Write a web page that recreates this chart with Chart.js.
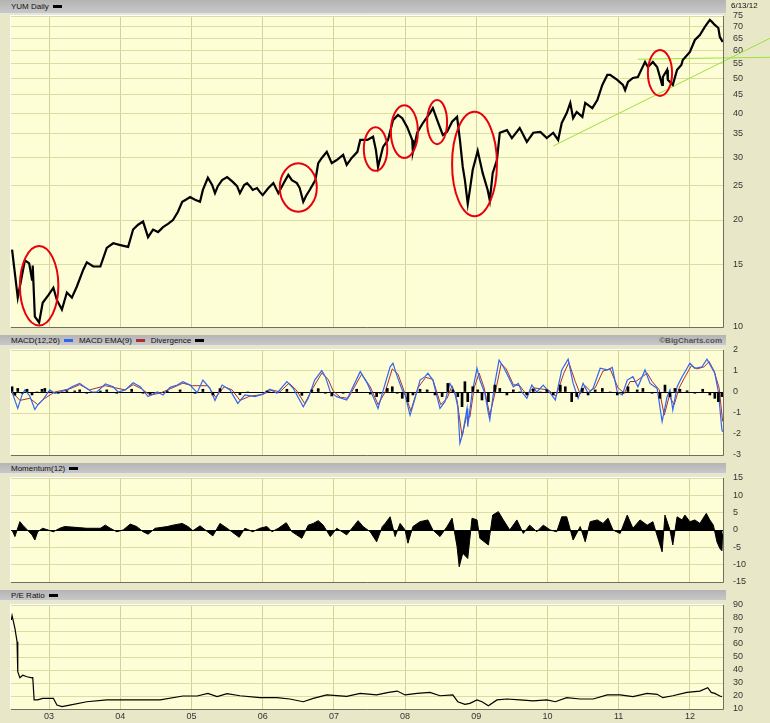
<!DOCTYPE html>
<html>
<head>
<meta charset="utf-8">
<script src="https://cdn.jsdelivr.net/npm/chart.js@4.4.1/dist/chart.umd.min.js"></script>
<style>
html, body { margin: 0; padding: 0; }
body { width: 770px; height: 723px; background: #e8e8c8; position: relative; overflow: hidden; }
.bar { position: absolute; left: 0; width: 726px; background: linear-gradient(#b4b4b4, #c8c8c8); border-bottom: 1px solid #e4e4e4;
       font: 8px "Liberation Sans", sans-serif; color: #111; box-sizing: border-box; padding-left: 11px; z-index: 2; white-space: nowrap; }
.sw { display: inline-block; width: 9px; height: 3px; vertical-align: middle; margin: 0 6px 0 4px; }
.right { position: absolute; right: 4px; top: 0; font-weight: bold; color: #555; }
.date { position: absolute; left: 731px; top: 1px; font: 8px "Liberation Sans", sans-serif; color: #111; z-index: 2; }
.panel { position: absolute; left: 0; }
</style>
</head>
<body>

<div class="bar" style="top:0;height:14px;line-height:13px">YUM Daily<span class="sw" style="background:#000"></span></div>
<div class="date">6/13/12</div>
<div class="bar" style="top:335px;height:11px;line-height:11px">MACD(12,26)<span class="sw" style="background:#3366ee"></span>MACD EMA(9)<span class="sw" style="background:#a83030"></span>Divergence<span class="sw" style="background:#000"></span><span class="right">©BigCharts.com</span></div>
<div class="bar" style="top:463px;height:11px;line-height:11px">Momentum(12)<span class="sw" style="background:#000"></span></div>
<div class="bar" style="top:590px;height:11px;line-height:11px">P/E Ratio<span class="sw" style="background:#000"></span></div>

<canvas id="price" class="panel" width="770" height="336" style="top:0"></canvas>
<canvas id="macd" class="panel" width="770" height="122" style="top:340px"></canvas>
<canvas id="mom" class="panel" width="770" height="120" style="top:468px"></canvas>
<canvas id="pe" class="panel" width="770" height="128" style="top:595px"></canvas>

<script>
// ============ Data ============

const X_MIN = 2002.465;
const X_MAX = 2012.465;

const yearTicks = [2003, 2004, 2005, 2006, 2007, 2008, 2009, 2010, 2011, 2012];
const yearLabels = ['03', '04', '05', '06', '07', '08', '09', '10', '11', '12'];
const priceTicks = [10, 15, 20, 25, 30, 35, 40, 45, 50, 55, 60, 65, 70, 75];
const macdTicks = [-3, -2, -1, 0, 1, 2];
const momTicks = [-15, -10, -5, 0, 5, 10, 15];
const peTicks = [10, 20, 30, 40, 50, 60, 70, 80, 90];

// YUM close (decimal year, $)
const priceDates = [
    2002.48, 2002.56, 2002.66, 2002.72, 2002.76, 2002.77, 2002.80, 2002.86, 2002.91, 2002.99,
    2003.06, 2003.11, 2003.18, 2003.25, 2003.32, 2003.39, 2003.48, 2003.53, 2003.62, 2003.72,
    2003.81, 2003.90, 2004.00, 2004.11, 2004.18, 2004.25, 2004.32, 2004.39, 2004.46, 2004.53,
    2004.60, 2004.67, 2004.74, 2004.81, 2004.87, 2004.92, 2004.98, 2005.05, 2005.12, 2005.16,
    2005.23, 2005.29, 2005.33, 2005.37, 2005.43, 2005.50, 2005.58, 2005.64, 2005.68, 2005.74,
    2005.78, 2005.82, 2005.86, 2005.92, 2005.96, 2006.00, 2006.08, 2006.15, 2006.22, 2006.29,
    2006.36, 2006.41, 2006.48, 2006.52, 2006.57, 2006.61, 2006.66, 2006.74, 2006.78, 2006.83,
    2006.90, 2006.97, 2007.04, 2007.13, 2007.18, 2007.25, 2007.33, 2007.37, 2007.47, 2007.55,
    2007.59, 2007.62, 2007.69, 2007.76, 2007.83, 2007.90, 2007.96, 2008.03, 2008.10, 2008.11,
    2008.17, 2008.25, 2008.35, 2008.39, 2008.46, 2008.53, 2008.59, 2008.66, 2008.73, 2008.77,
    2008.81, 2008.84, 2008.88, 2008.91, 2008.95, 2009.02, 2009.09, 2009.16, 2009.19, 2009.23,
    2009.29, 2009.33, 2009.43, 2009.50, 2009.61, 2009.71, 2009.80, 2009.90, 2009.99, 2010.08,
    2010.15, 2010.20, 2010.27, 2010.32, 2010.36, 2010.41, 2010.49, 2010.53, 2010.63, 2010.70,
    2010.77, 2010.84, 2010.88, 2010.98, 2011.06, 2011.09, 2011.13, 2011.20, 2011.27, 2011.33,
    2011.37, 2011.41, 2011.48, 2011.54, 2011.61, 2011.62, 2011.68, 2011.69, 2011.76, 2011.82,
    2011.88, 2011.90, 2012.00, 2012.07, 2012.14, 2012.21, 2012.28, 2012.31, 2012.35, 2012.40,
    2012.42, 2012.46
];
const priceValues = [
    16.5, 12.1, 15.4, 15.1, 13.6, 14.9, 10.7, 10.3, 11.7, 12.3,
    12.9, 11.9, 11.2, 12.5, 12.1, 13.0, 14.5, 15.2, 14.8, 14.8,
    16.7, 17.2, 17.0, 16.8, 18.8, 19.4, 19.8, 17.9, 18.8, 18.5,
    19.1, 19.5, 20.0, 21.1, 22.5, 22.8, 23.2, 22.8, 22.5, 24.3,
    26.3, 25.1, 23.8, 24.9, 25.9, 26.4, 25.6, 24.9, 23.8, 25.1,
    25.4, 24.9, 24.3, 24.6, 24.0, 23.5, 24.6, 25.4, 23.8, 25.3,
    26.8, 25.9, 25.4, 24.6, 22.5, 23.4, 24.3, 25.9, 28.9, 29.9,
    31.1, 28.9, 29.5, 30.5, 28.6, 29.9, 31.1, 33.6, 33.6, 34.3,
    31.5, 28.2, 32.1, 33.6, 38.2, 39.5, 38.7, 36.5, 33.6, 31.1,
    35.2, 37.5, 40.0, 41.3, 37.8, 34.7, 35.4, 37.8, 39.0, 33.6,
    28.2, 25.9, 22.2, 24.3, 27.7, 31.3, 27.1, 24.3, 22.7, 27.1,
    29.5, 35.2, 35.8, 34.0, 36.3, 33.2, 35.2, 35.4, 34.0, 35.2,
    33.6, 37.5, 40.0, 42.7, 38.7, 40.3, 39.0, 42.7, 41.3, 43.5,
    48.0, 51.2, 51.2, 49.6, 48.0, 46.4, 48.9, 50.2, 50.5, 53.6,
    55.7, 53.9, 55.7, 53.9, 48.0, 50.5, 52.9, 49.6, 48.0, 52.9,
    54.6, 56.4, 59.4, 64.2, 66.3, 69.9, 73.1, 72.2, 70.8, 69.4,
    65.5, 63.4
];

// Green trend lines drawn on the price panel
const trendUpDates = [2010.08, 2013.13];
const trendUpValues = [32.3, 65.0];
const trendFlatDates = [2011.27, 2013.13];
const trendFlatValues = [56.7, 57.4];

// Red circled areas: date range and price range
const circleStart = [2002.59, 2006.24, 2007.42, 2007.80, 2008.31, 2008.66, 2011.41];
const circleEnd = [2003.13, 2006.76, 2007.75, 2008.18, 2008.59, 2009.29, 2011.75];
const circleHigh = [16.9, 28.9, 36.5, 42.1, 43.5, 40.3, 60.2];
const circleLow = [10.1, 21.1, 27.5, 29.9, 32.7, 20.5, 44.7];

// MACD(12,26)
const macdDates = [
    2002.48, 2002.52, 2002.56, 2002.62, 2002.66, 2002.73, 2002.80, 2002.84, 2002.91, 2003.01,
    2003.08, 2003.15, 2003.25, 2003.32, 2003.43, 2003.53, 2003.60, 2003.67, 2003.79, 2003.90,
    2003.97, 2004.07, 2004.18, 2004.28, 2004.39, 2004.52, 2004.60, 2004.70, 2004.80, 2004.88,
    2004.98, 2005.08, 2005.16, 2005.26, 2005.33, 2005.43, 2005.54, 2005.65, 2005.75, 2005.89,
    2006.00, 2006.10, 2006.20, 2006.34, 2006.43, 2006.57, 2006.64, 2006.73, 2006.83, 2006.88,
    2006.95, 2007.04, 2007.18, 2007.37, 2007.47, 2007.55, 2007.62, 2007.66, 2007.72, 2007.79,
    2007.83, 2007.89, 2007.96, 2008.00, 2008.07, 2008.14, 2008.21, 2008.28, 2008.32, 2008.39,
    2008.49, 2008.56, 2008.63, 2008.70, 2008.74, 2008.77, 2008.81, 2008.87, 2008.88, 2008.94,
    2009.01, 2009.05, 2009.12, 2009.17, 2009.19, 2009.26, 2009.32, 2009.38, 2009.45, 2009.52,
    2009.59, 2009.64, 2009.71, 2009.78, 2009.85, 2009.94, 2010.04, 2010.11, 2010.20, 2010.29,
    2010.36, 2010.43, 2010.50, 2010.57, 2010.64, 2010.74, 2010.84, 2010.91, 2010.98, 2011.05,
    2011.12, 2011.20, 2011.27, 2011.37, 2011.44, 2011.54, 2011.61, 2011.68, 2011.72, 2011.76,
    2011.82, 2011.89, 2011.96, 2012.00, 2012.07, 2012.17, 2012.24, 2012.31, 2012.35, 2012.40,
    2012.45, 2012.46
];
const macdValues = [
    0, -0.4, -0.78, -0.14, 0.1, -0.2, -0.83, -0.62, -0.38, 0.1,
    -0.06, 0, 0.1, 0.25, 0.41, 0.17, 0, 0, 0.38, 0.25,
    0, 0.1, 0.44, 0.25, -0.22, 0, -0.14, 0.22, 0.33, 0.49,
    0.33, -0.03, 0.57, 0.17, -0.41, 0.33, 0.1, -0.54, -0.14, -0.22,
    -0.1, 0.13, -0.06, 0.49, 0.17, -0.7, -0.3, 0.57, 1.02, 0.73,
    0, -0.22, -0.38, 0.97, 0.41, -0.22, -0.78, -0.3, 0.4, 1.2,
    1.37, 0.73, 0.1, -0.14, -1.1, -0.3, 0.57, 0.73, 0.89, 0.57,
    -0.78, -0.46, 0.41, -0.06, -0.7, -2.44, -1.97, -0.78, -1.65, -0.06,
    1.13, 0.57, -0.06, -1.02, -1.33, 0.41, 1.52, 1.2, 0.73, 0.25,
    0.41, 0, -0.3, 0.33, 0, 0.33, -0.06, -0.38, 1.05, 1.56,
    0.41, -0.3, 0.41, -0.06, 0.17, 1.13, 1.05, 1.17, 0, -0.14,
    0.57, 0.73, 0.25, 1.05, 0.41, 0.17, -1.41, -0.22, 0.1, -0.86,
    0.25, 0.73, 1.13, 1.37, 1.13, 1.2, 1.56, 1.13, 0.89, 0,
    -1.81, -1.9
];

// MACD EMA(9)
const emaDates = [
    2002.48, 2002.59, 2002.73, 2002.84, 2002.94, 2003.08, 2003.29, 2003.43, 2003.57, 2003.79,
    2003.93, 2004.07, 2004.18, 2004.30, 2004.42, 2004.56, 2004.70, 2004.88, 2005.01, 2005.12,
    2005.23, 2005.34, 2005.46, 2005.57, 2005.68, 2005.82, 2006.00, 2006.13, 2006.24, 2006.37,
    2006.47, 2006.59, 2006.69, 2006.83, 2006.92, 2006.99, 2007.09, 2007.20, 2007.39, 2007.51,
    2007.62, 2007.72, 2007.82, 2007.90, 2007.98, 2008.08, 2008.18, 2008.29, 2008.39, 2008.50,
    2008.59, 2008.66, 2008.73, 2008.80, 2008.86, 2008.91, 2008.97, 2009.04, 2009.11, 2009.19,
    2009.28, 2009.35, 2009.42, 2009.52, 2009.61, 2009.71, 2009.80, 2009.90, 2010.01, 2010.12,
    2010.23, 2010.30, 2010.39, 2010.46, 2010.53, 2010.60, 2010.67, 2010.78, 2010.88, 2010.99,
    2011.08, 2011.16, 2011.24, 2011.40, 2011.47, 2011.57, 2011.64, 2011.71, 2011.78, 2011.85,
    2011.92, 2012.02, 2012.10, 2012.20, 2012.27, 2012.34, 2012.41, 2012.46
];
const emaValues = [
    0, -0.4, -0.3, -0.6, -0.3, 0, 0.15, 0.35, 0.1, 0.3,
    0.2, 0.1, 0.35, 0.15, -0.15, -0.05, 0.15, 0.42, 0.3, 0.3,
    0.3, -0.25, 0.25, 0.1, -0.4, -0.2, -0.12, 0.1, 0, 0.42,
    0.1, -0.55, 0.1, 0.9, 0.6, 0.05, -0.25, -0.3, 0.85, 0.25,
    -0.6, 0, 1.1, 0.85, 0.1, -0.9, 0.2, 0.7, 0.6, -0.6,
    -0.3, 0.3, -0.4, -2.1, -1.2, -1.2, 0.2, 0.9, 0.2, -1.1,
    0.2, 1.35, 1.1, 0.35, 0.3, -0.15, 0.2, 0.15, 0.1, -0.2,
    0.9, 1.4, 0.5, -0.1, 0.3, 0.05, 0.2, 1.0, 1.1, 0.2,
    -0.05, 0.5, 0.5, 0.9, 0.5, 0.1, -1.1, -0.2, -0.6, 0.2,
    0.65, 1.25, 1.1, 1.2, 1.45, 1.0, 0.2, -1.4
];

// Divergence (MACD - EMA)
const divDates = [
    2002.48, 2002.52, 2002.56, 2002.62, 2002.69, 2002.76, 2002.83, 2002.90, 2002.94, 2003.01,
    2003.13, 2003.25, 2003.36, 2003.43, 2003.53, 2003.72, 2003.81, 2003.95, 2004.16, 2004.32,
    2004.42, 2004.66, 2004.84, 2005.05, 2005.16, 2005.30, 2005.40, 2005.54, 2005.68, 2005.79,
    2006.06, 2006.34, 2006.43, 2006.55, 2006.69, 2006.78, 2006.88, 2006.97, 2007.13, 2007.32,
    2007.39, 2007.51, 2007.60, 2007.65, 2007.75, 2007.82, 2007.89, 2007.96, 2008.04, 2008.11,
    2008.21, 2008.31, 2008.42, 2008.52, 2008.60, 2008.67, 2008.74, 2008.80, 2008.84, 2008.88,
    2008.95, 2009.02, 2009.08, 2009.17, 2009.26, 2009.33, 2009.43, 2009.52, 2009.61, 2009.71,
    2009.80, 2009.90, 2009.99, 2010.08, 2010.18, 2010.25, 2010.34, 2010.41, 2010.49, 2010.57,
    2010.67, 2010.77, 2010.88, 2010.98, 2011.06, 2011.13, 2011.26, 2011.34, 2011.47, 2011.58,
    2011.65, 2011.72, 2011.79, 2011.86, 2011.96, 2012.07, 2012.18, 2012.28, 2012.35, 2012.40,
    2012.45
];
const divValues = [
    0.25, -0.15, 0.17, -0.06, 0.13, -0.14, 0, 0.13, 0.17, 0,
    -0.06, 0.06, 0.05, 0.1, -0.06, 0.05, 0.1, -0.06, 0.13, -0.06,
    -0.1, 0.05, 0.1, -0.06, 0.13, -0.14, 0.16, -0.03, -0.13, 0,
    0.05, 0.13, -0.03, -0.16, 0.1, 0.16, -0.06, -0.19, -0.06, 0.13,
    -0.03, -0.1, -0.22, -0.06, 0.17, 0.25, -0.06, -0.3, -0.46, -0.14,
    0.13, 0.1, -0.14, -0.22, 0.41, 0.1, -0.22, -0.7, 0.49, -0.46,
    0.25, 0.1, -0.38, -0.46, 0.33, 0.17, -0.14, 0.1, 0, -0.14,
    0.13, 0, 0.1, -0.14, 0.33, 0.25, -0.46, -0.22, 0.17, -0.14,
    0.1, 0.17, 0, -0.14, -0.06, 0.25, 0.1, 0.17, -0.06, -0.3,
    0.33, -0.22, 0.17, 0.13, 0.06, -0.06, 0.13, -0.14, -0.3, -0.46,
    -0.22
];

// Momentum(12)
const momDates = [
    2002.48, 2002.52, 2002.59, 2002.63, 2002.76, 2002.80, 2002.84, 2002.91, 2003.06, 2003.15,
    2003.22, 2003.41, 2003.53, 2003.72, 2003.79, 2003.86, 2003.95, 2004.04, 2004.14, 2004.23,
    2004.32, 2004.39, 2004.49, 2004.66, 2004.74, 2004.87, 2004.95, 2005.02, 2005.12, 2005.30,
    2005.40, 2005.50, 2005.67, 2005.75, 2005.86, 2005.96, 2006.06, 2006.13, 2006.22, 2006.33,
    2006.41, 2006.55, 2006.64, 2006.71, 2006.78, 2006.85, 2006.95, 2007.04, 2007.18, 2007.34,
    2007.41, 2007.51, 2007.60, 2007.68, 2007.72, 2007.79, 2007.86, 2007.93, 2008.00, 2008.04,
    2008.11, 2008.21, 2008.32, 2008.39, 2008.49, 2008.59, 2008.66, 2008.73, 2008.76, 2008.81,
    2008.88, 2008.94, 2009.01, 2009.05, 2009.17, 2009.23, 2009.31, 2009.38, 2009.47, 2009.57,
    2009.66, 2009.75, 2009.85, 2009.94, 2010.04, 2010.13, 2010.20, 2010.27, 2010.36, 2010.46,
    2010.53, 2010.60, 2010.70, 2010.78, 2010.85, 2010.92, 2011.02, 2011.12, 2011.20, 2011.30,
    2011.40, 2011.48, 2011.61, 2011.65, 2011.72, 2011.76, 2011.82, 2011.89, 2011.93, 2012.00,
    2012.07, 2012.14, 2012.23, 2012.28, 2012.33, 2012.38, 2012.42, 2012.45, 2012.46
];
const momValues = [
    0, -1.9, 2.4, 1.4, -1.4, -2.9, -0.5, 0.5, -0.5, 0.5,
    1, 0.7, 0.5, 0.5, 1.4, 0.5, -0.5, 0, 1.7, 1,
    -0.5, -1.2, 0.5, 1, 1.4, 1.9, 1, -0.2, 1.2, -1.7,
    1.9, 0.5, -2.1, 0.5, -0.5, 0.5, 1, -0.5, 0.5, 2.1,
    -0.5, -2.4, 1.4, 1.9, 2.7, 1.4, -1.9, 0.5, -1.4, 2.7,
    1, -0.5, -3.4, 1, 1.9, 3.8, -1.9, 1.9, 0, -3.8,
    1, 2.4, 2.9, 0, -1.9, 1, 3.4, -4.8, -10.6, -6.7,
    -8.2, 3.4, 2.9, -2.4, -4.3, 4.3, 5.3, 2.9, 0, 2.9,
    -1, 1.4, -0.5, 1.4, 0, -0.5, 3.8, 3.8, -2.9, 1,
    -3.4, 2.4, 2.9, 1.9, 3.4, 0, -1, 4.3, 0.5, 2.9,
    1.4, 2.4, -6.3, 4.3, 0, -4.3, 3.8, 2.9, 4.3, 2.4,
    2.9, 1.9, 4.8, 2.9, 1.4, -3.4, -5.3, -6, -1
];

// P/E ratio
const peDates = [
    2002.47, 2002.48, 2002.52, 2002.55, 2002.56, 2002.59, 2002.63, 2002.69, 2002.76, 2002.77,
    2002.79, 2002.84, 2002.91, 2003.06, 2003.11, 2003.18, 2003.29, 2003.53, 2003.81, 2004.18,
    2004.56, 2004.88, 2005.08, 2005.23, 2005.36, 2005.50, 2005.68, 2005.96, 2006.20, 2006.38,
    2006.57, 2006.71, 2006.90, 2007.18, 2007.37, 2007.60, 2007.77, 2007.89, 2008.00, 2008.17,
    2008.35, 2008.49, 2008.67, 2008.74, 2008.84, 2008.91, 2009.01, 2009.08, 2009.17, 2009.29,
    2009.43, 2009.61, 2009.80, 2009.99, 2010.11, 2010.27, 2010.46, 2010.64, 2010.84, 2011.02,
    2011.20, 2011.40, 2011.54, 2011.62, 2011.76, 2011.96, 2012.14, 2012.25, 2012.30, 2012.35,
    2012.42, 2012.45
];
const peValues = [
    78.5, 81.8, 72, 61.8, 38.7, 34, 36, 34.8, 34, 34.6,
    17, 17, 18.2, 18.2, 13, 11.8, 13, 15.6, 17, 17,
    17, 20, 20, 22, 19.5, 21.8, 20.2, 18.7, 18.7, 17.7,
    15.6, 18.2, 20.8, 19.7, 22, 20.8, 22.8, 23.8, 20.8, 22,
    22.8, 20.2, 20.8, 15.6, 13.6, 14.3, 17, 15.6, 12.5, 17,
    17.7, 17, 16.2, 17, 15.6, 18.7, 17.7, 17.7, 20.8, 20.8,
    19.5, 22, 21.3, 18.7, 20.2, 22.8, 23.8, 26.4, 22.8, 22,
    20, 19.5
];

// ============ Styles ============

const PLOT_BG = '#fdfdd6';
const H_GRID = '#dcdca4';
const V_GRID = '#d2d29a';
const TICK_COLOR = '#333333';
const TICK_FONT = { family: '"Liberation Sans", sans-serif', size: 9 };

// ============ Helpers ============

function xy(dates, values) {
    return dates.map((d, i) => ({ x: d, y: values[i] }));
}

function xScale(showLabels) {
    return {
        type: 'linear',
        min: X_MIN,
        max: X_MAX,
        bounds: 'data',
        offset: false,
        afterBuildTicks: (s) => { s.ticks = yearTicks.map(v => ({ value: v })); },
        afterFit: (s) => { s.height = showLabels ? 14 : 0; s.paddingLeft = 0; s.paddingRight = 0; },
        grid: { color: V_GRID, drawTicks: false, offset: false },
        border: { display: false },
        ticks: {
            display: showLabels,
            padding: 2,
            autoSkip: false,
            maxRotation: 0,
            color: TICK_COLOR,
            font: TICK_FONT,
            callback: (v) => yearLabels[yearTicks.indexOf(v)]
        }
    };
}

function yScale(type, min, max, tickList, zeroLine) {
    return {
        type: type,
        position: 'right',
        min: min,
        max: max,
        afterBuildTicks: (s) => { s.ticks = tickList.map(v => ({ value: v })); },
        afterFit: (s) => { s.width = 47; s.paddingTop = 0; s.paddingBottom = 0; },
        grid: {
            drawTicks: false,
            color: (c) => (zeroLine && c.tick && c.tick.value === 0) ? '#000000' : H_GRID
        },
        border: { display: false },
        ticks: {
            padding: 10,
            autoSkip: false,
            color: TICK_COLOR,
            font: TICK_FONT,
            callback: (v) => String(v)
        }
    };
}

// Yellow plot area plus a bevelled frame
const plotFrame = {
    id: 'plotFrame',
    beforeDraw(chart) {
        const { ctx, chartArea: a } = chart;
        ctx.save();
        ctx.fillStyle = PLOT_BG;
        ctx.fillRect(a.left, a.top, a.right - a.left, a.bottom - a.top);
        ctx.restore();
    },
    afterDatasetsDraw(chart) {
        const { ctx, chartArea: a } = chart;
        ctx.save();
        ctx.lineWidth = 1;
        ctx.strokeStyle = '#ffffff';
        ctx.beginPath();
        ctx.moveTo(a.left - 0.5, a.bottom);
        ctx.lineTo(a.left - 0.5, a.top - 0.5);
        ctx.lineTo(a.right, a.top - 0.5);
        ctx.stroke();
        ctx.strokeStyle = '#6f6f60';
        ctx.beginPath();
        ctx.moveTo(a.right + 0.5, a.top);
        ctx.lineTo(a.right + 0.5, a.bottom + 0.5);
        ctx.lineTo(a.left, a.bottom + 0.5);
        ctx.stroke();
        ctx.restore();
    }
};

// Red ellipses round the marked price areas
const circles = {
    id: 'circles',
    afterDatasetsDraw(chart) {
        const { ctx } = chart;
        const xs = chart.scales.x;
        const ys = chart.scales.y;
        ctx.save();
        ctx.strokeStyle = '#e8000c';
        ctx.lineWidth = 2;
        circleStart.forEach((start, i) => {
            const x0 = xs.getPixelForValue(start);
            const x1 = xs.getPixelForValue(circleEnd[i]);
            const y0 = ys.getPixelForValue(circleHigh[i]);
            const y1 = ys.getPixelForValue(circleLow[i]);
            ctx.beginPath();
            ctx.ellipse((x0 + x1) / 2, (y0 + y1) / 2, (x1 - x0) / 2, (y1 - y0) / 2, 0, 0, Math.PI * 2);
            ctx.stroke();
        });
        ctx.restore();
    }
};

function baseOptions(padding, scales) {
    return {
        responsive: false,
        animation: false,
        events: [],
        layout: { padding: padding },
        plugins: { legend: { display: false }, tooltip: { enabled: false } },
        elements: { point: { radius: 0 }, line: { tension: 0 } },
        scales: scales
    };
}

// ============ Charts ============

function renderPrice() {
    new Chart(document.getElementById('price'), {
        type: 'line',
        data: {
            datasets: [
                { data: xy(priceDates, priceValues), borderColor: '#000000', borderWidth: 2.2 },
                { data: xy(trendUpDates, trendUpValues), borderColor: '#9be33c', borderWidth: 1, clip: false },
                { data: xy(trendFlatDates, trendFlatValues), borderColor: '#9be33c', borderWidth: 1, clip: false }
            ]
        },
        options: baseOptions({ left: 11, top: 16, bottom: 9, right: 0 }, {
            x: xScale(false),
            y: yScale('logarithmic', 10, 75, priceTicks, false)
        }),
        plugins: [plotFrame, circles]
    });
}

function renderMacd() {
    new Chart(document.getElementById('macd'), {
        type: 'line',
        data: {
            datasets: [
                { type: 'bar', data: xy(divDates, divValues), backgroundColor: '#000000', barThickness: 2 },
                { data: xy(macdDates, macdValues), borderColor: '#3366ee', borderWidth: 1.2 },
                { data: xy(emaDates, emaValues), borderColor: '#a83030', borderWidth: 1 }
            ]
        },
        options: baseOptions({ left: 11, top: 10, bottom: 7, right: 0 }, {
            x: xScale(false),
            y: yScale('linear', -3, 2, macdTicks, true)
        }),
        plugins: [plotFrame]
    });
}

function renderMomentum() {
    new Chart(document.getElementById('mom'), {
        type: 'line',
        data: {
            datasets: [
                { data: xy(momDates, momValues), borderColor: '#000000', backgroundColor: '#000000', borderWidth: 1, fill: 'origin' }
            ]
        },
        options: baseOptions({ left: 11, top: 10, bottom: 6, right: 0 }, {
            x: xScale(false),
            y: yScale('linear', -15, 15, momTicks, true)
        }),
        plugins: [plotFrame]
    });
}

function renderPe() {
    new Chart(document.getElementById('pe'), {
        type: 'line',
        data: {
            datasets: [
                { data: xy(peDates, peValues), borderColor: '#000000', borderWidth: 1.2 }
            ]
        },
        options: baseOptions({ left: 11, top: 10, bottom: 0, right: 0 }, {
            x: xScale(true),
            y: yScale('linear', 10, 90, peTicks, false)
        }),
        plugins: [plotFrame]
    });
}

renderPrice();
renderMacd();
renderMomentum();
renderPe();
</script>
</body>
</html>
